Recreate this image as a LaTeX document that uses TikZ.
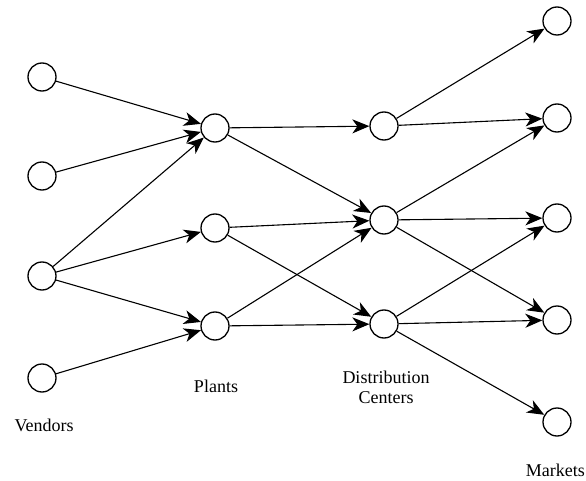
\documentclass[tikz,border=0pt]{standalone}
\usepackage{fontspec}
\setmainfont{Liberation Serif}
\usetikzlibrary{arrows.meta}
\begin{document}
\begin{tikzpicture}[x=1pt,y=-1pt,
  site/.style={circle,draw,line width=1.3pt,minimum size=28pt,inner sep=0pt},
  flow/.style={line width=1.1pt,-{Stealth[length=17pt,width=14pt,inset=5pt]}},
  lbl/.style={font=\fontsize{18}{20}\selectfont,align=center}]
\useasboundingbox (0,0) rectangle (586,481);
\node[site] (v1) at (42,77) {};
\node[site] (v2) at (42,176) {};
\node[site] (v3) at (42,276) {};
\node[site] (v4) at (42,378) {};
\node[site] (p1) at (215,128) {};
\node[site] (p2) at (215,228) {};
\node[site] (p3) at (215,326) {};
\node[site] (d1) at (384,126) {};
\node[site] (d2) at (384,220) {};
\node[site] (d3) at (384,324) {};
\node[site] (m1) at (557,21) {};
\node[site] (m2) at (557,118) {};
\node[site] (m3) at (557,218) {};
\node[site] (m4) at (557,320) {};
\node[site] (m5) at (557,422) {};
\foreach \a/\b in {v1/p1,v2/p1,v3/p1,v3/p2,v3/p3,v4/p3,
  p1/d1,p1/d2,p2/d2,p2/d3,p3/d2,p3/d3,
  d1/m1,d1/m2,d2/m2,d2/m3,d2/m4,d3/m3,d3/m4,d3/m5}
  \draw[flow] (\a) -- (\b);
\node[lbl] (lv) at (44,425) {Vendors};
\node[lbl] (lp) at (216,386) {Plants};
\node[lbl] (ld) at (386,387) {Distribution\\Centers};
\node[lbl,anchor=east,inner xsep=1pt] (lm) at (586,470) {Markets};
\end{tikzpicture}
\end{document}
